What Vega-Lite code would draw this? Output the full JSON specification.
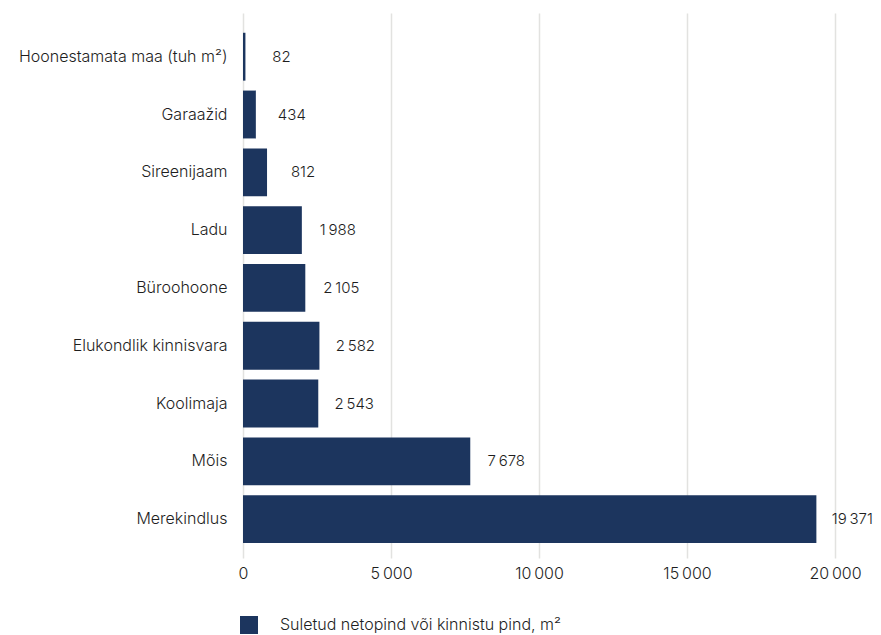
{
  "$schema": "https://vega.github.io/schema/vega-lite/v6.json",
  "width": 592,
  "height": 545,
  "autosize": {"type": "none"},
  "padding": {"left": 243, "top": 13, "right": 46, "bottom": 77},
  "background": "#ffffff",
  "config": {
    "locale": {"number": {"decimal": ",", "thousands": "\u2009", "grouping": [3], "currency": ["", " €"]}},
    "font": "Inter",
    "view": {"stroke": null}
  },
  "data": {
    "values": [
      {"kategooria": "Hoonestamata maa (tuh m²)", "pind": 82, "seeria": "Suletud netopind või kinnistu pind, m²"},
      {"kategooria": "Garaažid", "pind": 434, "seeria": "Suletud netopind või kinnistu pind, m²"},
      {"kategooria": "Sireenijaam", "pind": 812, "seeria": "Suletud netopind või kinnistu pind, m²"},
      {"kategooria": "Ladu", "pind": 1988, "seeria": "Suletud netopind või kinnistu pind, m²"},
      {"kategooria": "Büroohoone", "pind": 2105, "seeria": "Suletud netopind või kinnistu pind, m²"},
      {"kategooria": "Elukondlik kinnisvara", "pind": 2582, "seeria": "Suletud netopind või kinnistu pind, m²"},
      {"kategooria": "Koolimaja", "pind": 2543, "seeria": "Suletud netopind või kinnistu pind, m²"},
      {"kategooria": "Mõis", "pind": 7678, "seeria": "Suletud netopind või kinnistu pind, m²"},
      {"kategooria": "Merekindlus", "pind": 19371, "seeria": "Suletud netopind või kinnistu pind, m²"}
    ]
  },
  "encoding": {
    "y": {
      "field": "kategooria",
      "type": "nominal",
      "sort": null,
      "scale": {"paddingInner": 0.172, "paddingOuter": 0.3, "align": 0.57},
      "axis": {
        "title": null,
        "domain": false,
        "ticks": false,
        "labelPadding": 16,
        "labelFontSize": 16,
        "labelColor": "#1e1e1e",
        "labelFont": "Inter",
        "labelFontWeight": 300,
        "labelLimit": 300
      }
    },
    "x": {
      "field": "pind",
      "type": "quantitative",
      "scale": {"domain": [0, 20000], "nice": false},
      "axis": {
        "title": null,
        "values": [0, 5000, 10000, 15000, 20000],
        "format": ",d",
        "domain": false,
        "ticks": false,
        "grid": true,
        "gridColor": "#e2e2e0",
        "gridWidth": 1.5,
        "labelPadding": 7,
        "labelFontSize": 16,
        "labelColor": "#1e1e1e",
        "labelFontWeight": 300,
        "labelFlush": false
      }
    }
  },
  "layer": [
    {
      "mark": {"type": "bar"},
      "encoding": {
        "color": {
          "field": "seeria",
          "type": "nominal",
          "scale": {"range": ["#1c355e"]},
          "legend": {
            "title": null,
            "orient": "none",
            "legendX": -3,
            "legendY": 603,
            "symbolType": "square",
            "symbolSize": 324,
            "symbolStrokeWidth": 0,
            "labelFontSize": 16,
            "labelColor": "#1e1e1e",
            "labelFontWeight": 300,
            "labelOffset": 22,
            "labelLimit": 500
          }
        }
      }
    },
    {
      "mark": {"type": "text", "align": "center", "baseline": "middle", "dx": 36, "fontSize": 15, "color": "#1e1e1e", "fontWeight": 300},
      "encoding": {
        "text": {"field": "pind", "type": "quantitative", "format": ",d"}
      }
    }
  ]
}
